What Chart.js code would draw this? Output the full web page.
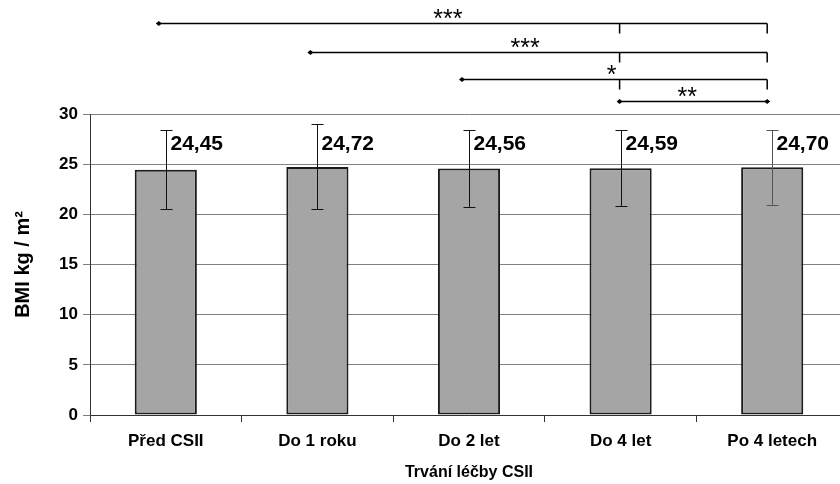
<!DOCTYPE html>
<html>
<head>
<meta charset="utf-8">
<script src="https://cdn.jsdelivr.net/npm/chart.js@4"></script>
<style>
  html, body { margin: 0; padding: 0; background: #fff; overflow: hidden; }
  #wrap { width: 850px; height: 484px; }
</style>
</head>
<body>
<div id="wrap"><canvas id="bmi-chart" width="850" height="484"></canvas></div>
<script>
// data
const categories = ["Před CSII", "Do 1 roku", "Do 2 let", "Do 4 let", "Po 4 letech"]
const bmiMean = [24.45, 24.72, 24.56, 24.59, 24.70]
const bmiLow = [20.5, 20.5, 20.7, 20.8, 20.95]
const bmiHigh = [28.4, 29.0, 28.4, 28.4, 28.4]
const valueLabels = ["24,45", "24,72", "24,56", "24,59", "24,70"]
const yTicks = [0, 5, 10, 15, 20, 25, 30]

// significance brackets: from category, to category, stars, where the stars sit (category units)
const sigFrom = [0, 1, 2, 3]
const sigTo = [4, 4, 4, 4]
const sigStars = ["***", "***", "*", "**"]
const sigStarAt = [1.86, 2.37, 2.94, 3.44]

const FONT = "'Liberation Sans', Arial, sans-serif"

const errorBars = {
  id: "errorBars",
  afterDatasetsDraw(chart) {
    const ctx = chart.ctx
    const x = chart.scales.x, y = chart.scales.y
    ctx.save()
    ctx.lineWidth = 1
    bmiMean.forEach((v, i) => {
      const px = Math.round(x.getPixelForValue(i)) + 0.5
      const top = y.getPixelForValue(bmiHigh[i])
      const bot = y.getPixelForValue(bmiLow[i])
      ctx.strokeStyle = i === 4 ? "#555" : "#111"
      ctx.beginPath()
      ctx.moveTo(px, top); ctx.lineTo(px, bot)
      ctx.moveTo(px - 6, Math.round(top) + 0.5); ctx.lineTo(px + 6, Math.round(top) + 0.5)
      ctx.moveTo(px - 6, Math.round(bot) + 0.5); ctx.lineTo(px + 6, Math.round(bot) + 0.5)
      ctx.stroke()
      // value label to the right of the error bar
      ctx.fillStyle = "#000"
      ctx.font = "bold 21px " + FONT
      ctx.textAlign = "left"
      ctx.textBaseline = "middle"
      ctx.fillText(valueLabels[i], px + 4, y.getPixelForValue(27.0))
    })
    ctx.restore()
  }
}

const brackets = {
  id: "brackets",
  afterDraw(chart) {
    const ctx = chart.ctx
    const x = chart.scales.x
    const top = chart.chartArea.top
    const rows = [top - 91, top - 62, top - 35, top - 13]
    ctx.save()
    ctx.strokeStyle = "#000"
    ctx.fillStyle = "#000"
    ctx.lineWidth = 1.5
    sigFrom.forEach((f, i) => {
      const y0 = Math.round(rows[i]) + 0.5
      const x1 = x.getPixelForValue(f) - (i === 3 ? 1 : 7)
      const x2 = x.getPixelForValue(sigTo[i]) - 5
      ctx.beginPath()
      ctx.moveTo(x1, y0); ctx.lineTo(x2, y0)
      ctx.stroke()
      // small diamond end marks
      const ends = i === 3 ? [x1, x2] : [x1]
      ends.forEach(ex => {
        ctx.beginPath()
        ctx.moveTo(ex - 3, y0); ctx.lineTo(ex, y0 - 2.5); ctx.lineTo(ex + 3, y0); ctx.lineTo(ex, y0 + 2.5)
        ctx.closePath(); ctx.fill()
      })
      if (i < 3) {
        const t1 = x.getPixelForValue(3) - 1
        ctx.beginPath()
        ctx.moveTo(t1, y0); ctx.lineTo(t1, y0 + 10)
        ctx.moveTo(x2, y0); ctx.lineTo(x2, y0 + 10)
        ctx.stroke()
      }
      ctx.font = "25px " + FONT
      ctx.textAlign = "center"
      ctx.textBaseline = "alphabetic"
      ctx.fillText(sigStars[i], x.getPixelForValue(sigStarAt[i]), y0 + 3)
    })
    ctx.restore()
  }
}

new Chart(document.getElementById("bmi-chart"), {
  type: "bar",
  data: {
    labels: categories,
    datasets: [{
      data: bmiMean,
      backgroundColor: "#a5a5a5",
      borderColor: "#1c1c1c",
      borderWidth: 2,
      borderSkipped: false,
      categoryPercentage: 1,
      barPercentage: 0.41,
    }],
  },
  options: {
    responsive: false,
    animation: false,
    layout: { padding: { top: 114, right: 2, left: 0, bottom: 0 } },
    plugins: {
      legend: { display: false },
      tooltip: { enabled: false },
    },
    scales: {
      x: {
        grid: { display: true, drawOnChartArea: false, tickLength: 7, color: "#333", offset: true },
        border: { color: "#333" },
        ticks: { color: "#000", font: { family: FONT, size: 17, weight: "bold" }, padding: 9 },
        title: { display: true, text: "Trvání léčby CSII", color: "#000", font: { family: FONT, size: 16, weight: "bold" }, padding: { top: 8, bottom: 2 } },
        afterFit(s) { s.height = 69 },
      },
      y: {
        min: 0,
        max: 30,
        afterBuildTicks(s) { s.ticks = yTicks.map(v => ({ value: v })) },
        grid: { color: "#808080", tickLength: 7 },
        border: { color: "#333" },
        ticks: { color: "#000", font: { family: FONT, size: 17, weight: "bold" }, padding: 5 },
        title: { display: true, text: "BMI kg / m²", color: "#000", font: { family: FONT, size: 20, weight: "bold" }, padding: { top: 11, bottom: 0 } },
        afterFit(s) { s.width = 90 },
      },
    },
  },
  plugins: [errorBars, brackets],
})
</script>
</body>
</html>
